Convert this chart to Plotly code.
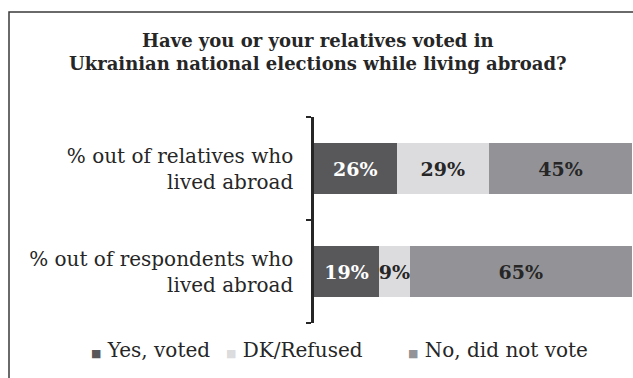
import plotly.graph_objects as go

# Survey results: share of people who voted while living abroad
categories = ["% out of respondents who<br>lived abroad", "% out of relatives who<br>lived abroad"]
series_names = ["Yes, voted", "DK/Refused", "No, did not vote"]
yes_voted = [19, 26]
dk_refused = [9, 29]
did_not_vote = [65, 45]

colors = ["#58585b", "#dcdcde", "#939397"]
text_colors = ["#ffffff", "#262626", "#262626"]

SERIF = "DejaVu Serif"

W, H = 633, 378
ML, MR, MT, MB = 314, 1, 117, 55
PW, PH = W - ML - MR, H - MT - MB


def px_x(px):
    return (px - ML) / PW


def px_y(py):
    return 1 - (py - MT) / PH


fig = go.Figure()
for name, vals, col, tcol in zip(series_names, [yes_voted, dk_refused, did_not_vote], colors, text_colors):
    fig.add_trace(go.Bar(
        y=categories, x=vals, name=name, orientation="h",
        marker=dict(color=col, line=dict(width=0)),
        text=[f"{v}%" for v in vals],
        textposition="inside", insidetextanchor="middle", textangle=0,
        insidetextfont=dict(family=SERIF, size=19, color=tcol, weight="bold"),
        showlegend=False, hoverinfo="skip",
    ))

# Outer frame (runs past the right and bottom edges)
fig.add_shape(type="rect", xref="paper", yref="paper",
              x0=px_x(9), x1=px_x(W + 20), y0=px_y(12), y1=px_y(H + 20),
              line=dict(color="#3a3a3a", width=1.5), fillcolor="rgba(0,0,0,0)", layer="below")

# Title
fig.add_annotation(text="Have you or your relatives voted in<br>Ukrainian national elections while living abroad?",
                   xref="paper", yref="paper", x=px_x(318), y=px_y(52),
                   xanchor="center", yanchor="middle", align="center", showarrow=False,
                   font=dict(family=SERIF, size=18, color="#262626", weight="bold"))

# Legend
legend_font = dict(family=SERIF, size=20, color="#262626")
legend_x = [89, 224, 406]
for name, col, lx in zip(series_names, colors, legend_x):
    fig.add_annotation(
        text=f'<span style="color:{col};font-size:11px">■</span> {name}',
        xref="paper", yref="paper", x=px_x(lx), y=px_y(350),
        xanchor="left", yanchor="middle", showarrow=False, font=legend_font)

fig.update_layout(
    barmode="stack", barnorm="percent", bargap=0.5,
    width=W, height=H,
    margin=dict(l=ML, r=MR, t=MT, b=MB),
    paper_bgcolor="white", plot_bgcolor="white",
    xaxis=dict(visible=False, range=[0, 100], fixedrange=True),
    yaxis=dict(
        showline=True, linecolor="#262626", linewidth=2.5,
        ticks="outside", ticklen=5, tickwidth=1.5, tickcolor="#262626",
        tickson="boundaries", showgrid=False, zeroline=False,
        tickfont=dict(family=SERIF, size=20, color="#262626"),
        ticklabelstandoff=14,
    ),
    uniformtext=dict(minsize=19, mode="show"),
)

fig.write_html("out.html")
